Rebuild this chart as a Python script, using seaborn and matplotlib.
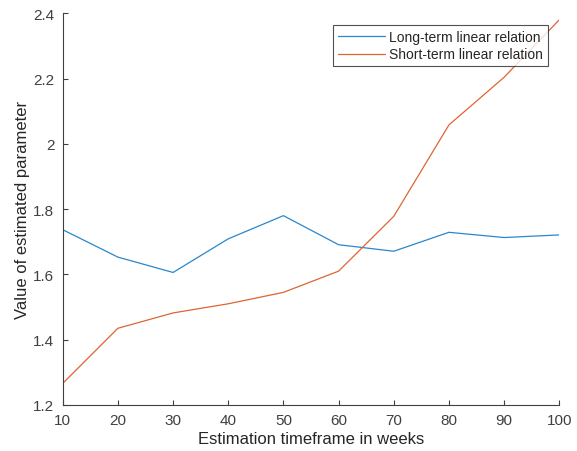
import matplotlib
matplotlib.use("Agg")
import matplotlib.pyplot as plt
import seaborn as sns
import pandas as pd

weeks = [10, 20, 30, 40, 50, 60, 70, 80, 90, 100]
long_term = [1.737, 1.653, 1.606, 1.709, 1.780, 1.691, 1.671, 1.729, 1.713, 1.721]
short_term = [1.266, 1.435, 1.482, 1.510, 1.545, 1.610, 1.778, 2.058, 2.204, 2.380]
series_names = ["Long-term linear relation", "Short-term linear relation"]
colors = ["#2A87CB", "#DD6535"]

df = pd.DataFrame({
    "weeks": weeks * 2,
    "value": long_term + short_term,
    "series": [series_names[0]] * len(weeks) + [series_names[1]] * len(weeks),
})

sns.set_style("ticks")
plt.rcParams["font.family"] = ["Liberation Sans", "DejaVu Sans"]

fig = plt.figure(figsize=(5.77, 4.52), dpi=100)
ax = fig.add_axes([0.1087, 0.1018, 0.8606, 0.8666])

sns.lineplot(data=df, x="weeks", y="value", hue="series", palette=colors,
             linewidth=0.9, ax=ax)

ax.set_xlim(10, 100)
ax.set_ylim(1.2, 2.4)
ax.set_xticks(weeks)
ax.set_yticks([1.2, 1.4, 1.6, 1.8, 2.0, 2.2, 2.4])
ax.set_yticklabels(["1.2", "1.4", "1.6", "1.8", "2", "2.2", "2.4"])
ax.tick_params(direction="in", length=3.5, width=0.8, colors="#404040",
               labelsize=11)
ax.tick_params(axis="x", pad=6)
ax.tick_params(axis="y", pad=6)
for s in ["top", "right"]:
    ax.spines[s].set_visible(False)
for s in ["left", "bottom"]:
    ax.spines[s].set_color("#404040")
    ax.spines[s].set_linewidth(0.8)

ax.set_xlabel("Estimation timeframe in weeks", fontsize=12, color="#262626", labelpad=3)
ax.set_ylabel("Value of estimated parameter", fontsize=12, color="#262626", labelpad=2)

leg = ax.legend(loc="upper right", bbox_to_anchor=(0.977, 0.970), fontsize=10,
                frameon=True, fancybox=False, handlelength=3.4, borderpad=0.35,
                labelspacing=0.25, handletextpad=0.3, borderaxespad=0)
leg.get_frame().set_edgecolor("#262626")
leg.get_frame().set_linewidth(0.8)
for line in leg.get_lines():
    line.set_linewidth(0.9)

fig.savefig("out.png", dpi=100)
